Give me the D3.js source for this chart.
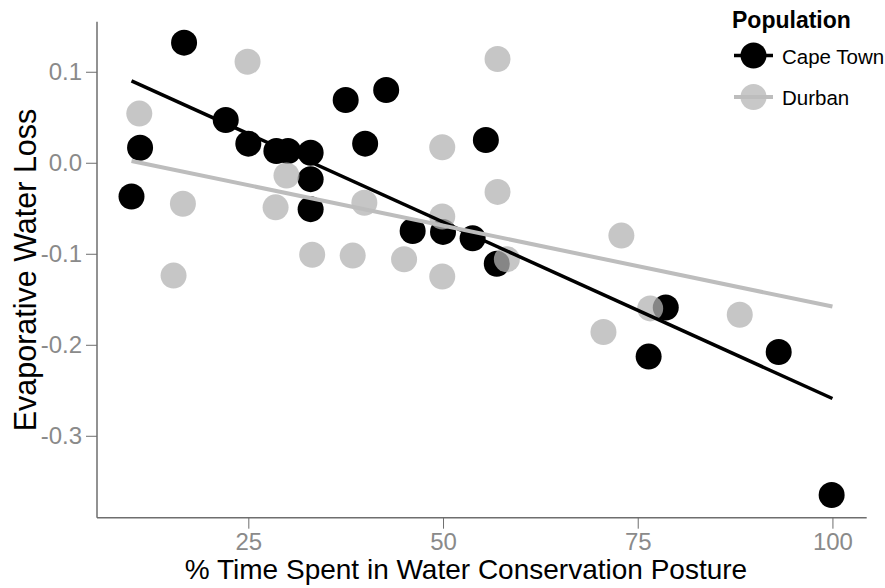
<!DOCTYPE html>
<html><head><meta charset="utf-8">
<script src="https://cdn.jsdelivr.net/npm/d3@7"></script>
<style>body{margin:0;background:#fff}svg{display:block;font-family:"Liberation Sans",Arial,sans-serif}</style>
</head><body><svg id="c" width="885" height="588"></svg>
<script>
const capeX = [10, 11.1, 16.75, 22.1, 25, 28.6, 30.1, 33, 33, 33, 37.5, 40, 42.7, 46.1, 50, 53.8, 55.5, 56.9, 78.6, 76.4, 93.1, 99.9];
const capeY = [-0.037, 0.0165, 0.132, 0.047, 0.021, 0.013, 0.013, 0.011, -0.018, -0.051, 0.069, 0.021, 0.080, -0.075, -0.076, -0.083, 0.025, -0.111, -0.159, -0.213, -0.208, -0.365];
const durbanX = [11, 24.9, 16.6, 28.5, 15.4, 29.9, 57, 49.9, 57, 39.9, 49.9, 33.2, 38.4, 45, 49.9, 58.2, 72.9, 70.6, 76.6, 88.1];
const durbanY = [0.054, 0.111, -0.045, -0.049, -0.124, -0.014, 0.114, 0.017, -0.032, -0.044, -0.059, -0.101, -0.102, -0.106, -0.125, -0.106, -0.080, -0.186, -0.160, -0.167];
const capeFitX = [10, 100], capeFitY = [0.090, -0.259];
const durbanFitX = [10, 100], durbanFitY = [0.002, -0.158];
const xTicks = [25, 50, 75, 100];
const yTicks = [0.1, 0.0, -0.1, -0.2, -0.3];
const populations = ["Cape Town", "Durban"];

const svg = d3.select("#c");
const x = d3.scaleLinear().domain([5.57, 104.4]).range([97, 866.7]);
const y = d3.scaleLinear().domain([0.155, -0.390]).range([21.7, 517.7]);
const axisCol = "#6e6e6e", tickTxt = "#8a8a8a";
const FONT = "Liberation Sans, Arial, sans-serif";

// points
const gP = svg.append("g");
gP.selectAll("circle.ct").data(capeX.map((v,i)=>[v,capeY[i]])).enter().append("circle")
  .attr("cx", d=>x(d[0])).attr("cy", d=>y(d[1])).attr("r", 13).attr("fill", "#000");
gP.selectAll("circle.du").data(durbanX.map((v,i)=>[v,durbanY[i]])).enter().append("circle")
  .attr("cx", d=>x(d[0])).attr("cy", d=>y(d[1])).attr("r", 13).attr("fill", "#b3b3b3").attr("fill-opacity", 0.75);

const line = d3.line().x(d=>x(d[0])).y(d=>y(d[1]));
svg.append("path").datum(capeFitX.map((v,i)=>[v,capeFitY[i]])).attr("d", line)
  .attr("stroke", "#000").attr("stroke-width", 3.5).attr("fill", "none");
svg.append("path").datum(durbanFitX.map((v,i)=>[v,durbanFitY[i]])).attr("d", line)
  .attr("stroke", "#bdbdbd").attr("stroke-width", 4).attr("fill", "none");

// axes
const xAxis = svg.append("g").attr("transform", `translate(0,${y.range()[1]})`)
  .call(d3.axisBottom(x).tickValues(xTicks).tickSize(11).tickPadding(4).tickFormat(d3.format("d")));
const yAxis = svg.append("g").attr("transform", `translate(${x.range()[0]},0)`)
  .call(d3.axisLeft(y).tickValues(yTicks).tickSize(11).tickPadding(4).tickFormat(d=>d3.format(".1f")(d).replace("−","-")));
[xAxis, yAxis].forEach(a=>{
  a.attr("font-size", 24).attr("font-family", FONT);
  a.select(".domain").attr("stroke", axisCol).attr("stroke-width", 1.5);
  a.selectAll(".tick line").attr("stroke", axisCol).attr("stroke-width", 1);
  a.selectAll(".tick text").attr("fill", tickTxt);
});
xAxis.select(".domain").attr("d", `M${x.range()[0]},0H${x.range()[1]}`);
yAxis.select(".domain").attr("d", `M0,${y.range()[0]}V${y.range()[1]}`);

// titles
svg.append("text").attr("x", 466).attr("y", 579).attr("text-anchor", "middle")
  .attr("font-size", 28).attr("fill", "#000").text("% Time Spent in Water Conservation Posture");
svg.append("text").attr("transform", "translate(36,270) rotate(-90)").attr("text-anchor", "middle")
  .attr("font-size", 30.5).attr("fill", "#000").text("Evaporative Water Loss");

// legend
const lg = svg.append("g");
lg.append("text").attr("x", 732).attr("y", 28).attr("font-size", 23).attr("font-weight", "bold").text("Population");
const lcol = ["#000", "#c8c8c8"];
populations.forEach((p,i)=>{
  const cy = 55.5 + i*41.5;
  lg.append("line").attr("x1", 734).attr("x2", 773).attr("y1", cy).attr("y2", cy)
    .attr("stroke", i===0 ? "#000" : "#bdbdbd").attr("stroke-width", i===0 ? 3.5 : 4);
  lg.append("circle").attr("cx", 753.5).attr("cy", cy).attr("r", 13).attr("fill", lcol[i]);
  if (i===1) lg.append("line").attr("x1", 734).attr("x2", 773).attr("y1", cy).attr("y2", cy)
    .attr("stroke", "#bdbdbd").attr("stroke-width", 4);
  lg.append("text").attr("x", 782).attr("y", cy + 8).attr("font-size", 20.5).text(p);
});
</script></body></html>
